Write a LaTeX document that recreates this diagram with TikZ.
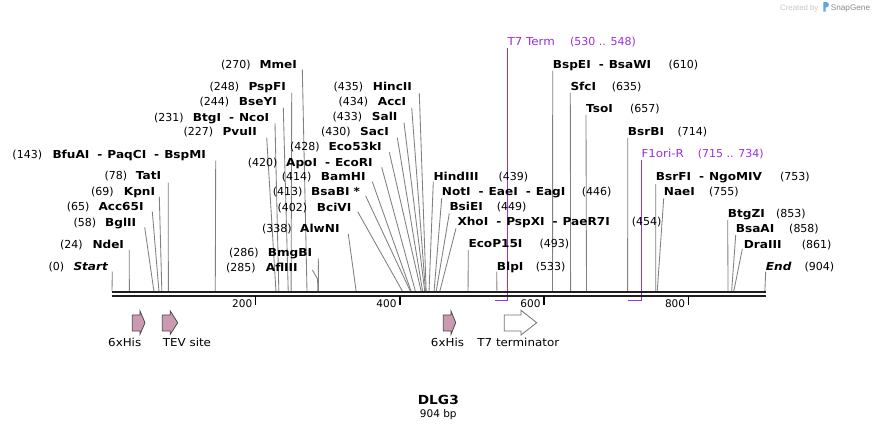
\documentclass[tikz,border=0pt]{standalone}
\usepackage{fontspec}
\setmainfont{DejaVu Sans}
\newfontfamily\nm{DejaVu Sans}
\newfontfamily\ft[FakeStretch=1.08]{DejaVu Sans}
\newfontfamily\bn[FakeStretch=1.1]{DejaVu Sans}
\newfontfamily\wm{Liberation Sans}
\definecolor{sitegray}{RGB}{128,128,128}
\definecolor{primer}{RGB}{155,48,225}
\definecolor{featpink}{RGB}{204,153,179}
\definecolor{logoblue}{RGB}{90,170,225}
\tikzset{
  num/.style={font=\nm\fontsize{11}{13}\selectfont, inner sep=0pt, anchor=base west},
  enz/.style={font=\bn\bfseries\fontsize{11}{13}\selectfont, inner sep=0pt, anchor=base west},
  plab/.style={font=\ft\fontsize{11}{13}\selectfont, inner sep=0pt, anchor=base west, text=primer},
  flab/.style={font=\ft\fontsize{11}{13}\selectfont, inner sep=0pt, anchor=base},
  ticklab/.style={font=\nm\fontsize{10.5}{12}\selectfont, inner sep=0pt, anchor=base east},
  site/.style={draw=sitegray, line width=0.85pt},
  primerln/.style={draw=primer, line width=1.2pt},
  tickln/.style={draw=black, line width=1.3pt},
  featarrow/.style={fill=featpink, draw=black!70, line width=0.8pt, line join=miter},
  termarrow/.style={fill=white, draw=black!55, line width=0.8pt, line join=miter}
}
\newcommand\enzL[6]{\node[num] (n#1) at (#2,#6) {(#3)}; \node[enz] (e#1) at (#4,#6) {#5};}
\newcommand\enzR[6]{\node[enz] (e#1) at (#2,#6) {#3}; \node[num] (n#1) at (#4,#6) {(#5)};}
\newcommand\siteln[4]{\coordinate (a#1) at (#2,#3); \coordinate (b#1) at ({112+#4*0.7222},291); \draw[site] (a#1) -- (b#1);}
\newcommand\dsh{\hspace{8pt}-\hspace{5pt}}
\begin{document}
\begin{tikzpicture}[x=1pt,y=-1pt]
\fill[white] (0,0) rectangle (878,430);
\useasboundingbox (0,0) rectangle (878,430);

% ---------- site lines ----------
\siteln{Start}{112.3}{271.7}{0}
\siteln{NdeI}{129.3}{250}{24}
\siteln{BglII}{144.7}{227.3}{58}
\siteln{AccS}{152.3}{211.7}{65}
\siteln{KpnI}{159.3}{196.7}{69}
\siteln{TatI}{168.3}{182.7}{78}
\siteln{BfuAI}{215.7}{160.7}{143}
\siteln{PvuII}{266.7}{137.7}{227}
\siteln{BtgI}{275}{123.3}{231}
\siteln{BseYI}{283.3}{107.7}{244}
\siteln{PspFI}{291.7}{92.7}{248}
\siteln{MmeI}{302.3}{69.3}{270}
\coordinate (aAflIII) at (312.3,270);
\coordinate (kAflIII) at (317.6,279);
\coordinate (bAflIII) at ({112+285*0.7222},291);
\draw[site] (aAflIII) -- (kAflIII) -- (bAflIII);
\siteln{BmgBI}{318.3}{258.3}{286}
\siteln{AlwNI}{348.3}{234}{338}
\siteln{BciVI}{357.7}{211.7}{402}
\siteln{BsaBI}{365.7}{196}{413}
\siteln{BamHI}{372.3}{181.7}{414}
\siteln{ApoI}{381.7}{167.3}{420}
\siteln{EcoFT}{389.3}{152.3}{428}
\siteln{SacI}{397.3}{137.7}{430}
\siteln{SalI}{404}{122.7}{433}
\siteln{AccI}{411.7}{107.7}{434}
\siteln{HincII}{419.3}{93.3}{435}
\siteln{HindIII}{433.3}{181.7}{439}
\siteln{NotI}{441.7}{198.3}{446}
\siteln{BsiEI}{449.3}{213.3}{449}
\siteln{XhoI}{456}{228.3}{454}
\siteln{EcoP}{468.3}{250}{493}
\siteln{BlpI}{496.7}{271.7}{533}
\siteln{BspEI}{552.7}{70.7}{610}
\siteln{SfcI}{570.3}{92.7}{635}
\siteln{TsoI}{586}{115}{657}
\siteln{BsrBI}{627.7}{138}{714}
\siteln{BsrFI}{655.7}{184}{753}
\siteln{NaeI}{663.7}{198.3}{755}
\siteln{BtgZI}{727.7}{220}{853}
\siteln{BsaAI}{735.7}{235}{858}
\siteln{DraIII}{742.3}{249}{861}
\siteln{End}{765.7}{271.7}{904}

% ---------- primer lines ----------
\coordinate (aT7) at (507.3,48);
\coordinate (cT7) at (507.3,300.6);
\coordinate (dT7) at ({112+530*0.7222},300.6);
\draw[primerln] (aT7) -- (cT7) -- (dT7);
\coordinate (aF1) at (641.3,160);
\coordinate (cF1) at (641.3,300.6);
\coordinate (dF1) at ({112+715*0.7222},300.6);
\draw[primerln] (aF1) -- (cF1) -- (dF1);

% ---------- backbone ----------
\coordinate (bbL1) at (111.5,292);
\coordinate (bbR1) at (765.7,292);
\coordinate (bbL2) at (111.5,295.7);
\coordinate (bbR2) at (765.7,295.7);
\draw[line width=2.6pt, black!88] (bbL1) -- (bbR1);
\draw[line width=2.1pt, black!88] (bbL2) -- (bbR2);

% ---------- ticks ----------
\foreach \t/\tx in {200/255.7,400/400,600/544,800/688.6}{
  \coordinate (tk\t a) at (\tx,296.5);
  \coordinate (tk\t b) at (\tx,305.5);
  \draw[tickln] (tk\t a) -- (tk\t b);
  \node[ticklab] (tl\t) at (\tx-3.3,307.5) {\t};
}

% ---------- enzyme labels, left format ----------
\enzL{Start}{48.3}{0}{73.3}{\itshape Start}{270.5}
\enzL{NdeI}{60}{24}{92.3}{NdeI}{249}
\enzL{BglII}{73.3}{58}{105}{BglII}{226.3}
\enzL{AccS}{66.7}{65}{98.3}{Acc65I}{210.7}
\enzL{KpnI}{91}{69}{123.7}{KpnI}{195.5}
\enzL{TatI}{104.3}{78}{135.7}{TatI}{180}
\enzL{BfuAI}{12.3}{143}{52.3}{BfuAI\dsh PaqCI\dsh BspMI}{159}
\enzL{PvuII}{183.3}{227}{222.3}{PvuII}{135.7}
\enzL{BtgI}{154}{231}{192.7}{BtgI\dsh NcoI}{121.3}
\enzL{BseYI}{199.3}{244}{238.7}{BseYI}{106}
\enzL{PspFI}{209.3}{248}{248.3}{PspFI}{90.7}
\enzL{MmeI}{221}{270}{259.3}{MmeI}{68.3}
\enzL{AflIII}{226}{285}{265.7}{AflIII}{271.5}
\enzL{BmgBI}{229}{286}{267.7}{BmgBI}{256.5}
\enzL{AlwNI}{262}{338}{300}{AlwNI}{232.5}
\enzL{BciVI}{277.3}{402}{316.7}{BciVI}{211.5}
\enzL{BsaBI}{272.7}{413}{311}{BsaBI *}{196}
\enzL{BamHI}{281.7}{414}{320.7}{BamHI}{180.7}
\enzL{ApoI}{247.7}{420}{286}{ApoI\dsh EcoRI}{166.5}
\enzL{EcoFT}{290}{428}{328.3}{Eco53kI}{151}
\enzL{SacI}{321}{430}{360}{SacI}{136}
\enzL{SalI}{332.3}{433}{371.7}{SalI}{121}
\enzL{AccI}{338.3}{434}{377.7}{AccI}{106}
\enzL{HincII}{333.3}{435}{372.7}{HincII}{90.7}

% ---------- enzyme labels, right format ----------
\enzR{HindIII}{433.3}{HindIII}{498.3}{439}{180.7}
\enzR{NotI}{441.7}{NotI\dsh EaeI\dsh EagI}{581.7}{446}{196}
\enzR{BsiEI}{449.3}{BsiEI}{496.7}{449}{211}
\enzR{XhoI}{457.3}{XhoI\dsh PspXI\dsh PaeR7I}{631.7}{454}{226}
\enzR{EcoP}{468.3}{EcoP15I}{539.3}{493}{247.5}
\enzR{BlpI}{496.7}{BlpI}{535.7}{533}{271}
\enzR{BspEI}{552.7}{BspEI\dsh BsaWI}{668.3}{610}{68.3}
\enzR{SfcI}{570.3}{SfcI}{611.7}{635}{91}
\enzR{TsoI}{586}{TsoI}{630}{657}{113}
\enzR{BsrBI}{627.7}{BsrBI}{677.3}{714}{135.7}
\enzR{BsrFI}{655.7}{BsrFI\dsh NgoMIV}{780}{753}{180.7}
\enzR{NaeI}{663.7}{NaeI}{709}{755}{196}
\enzR{BtgZI}{727.7}{BtgZI}{776}{853}{217.5}
\enzR{BsaAI}{735.7}{BsaAI}{789}{858}{233}
\enzR{DraIII}{743.7}{DraIII}{801.7}{861}{248.3}
\enzR{End}{765.7}{\itshape End}{804.3}{904}{271}

% ---------- primer labels ----------
\node[plab] (pT7) at (507.3,46) {T7 Term};
\node[num, text=primer] (pT7n) at (570,46) {(530 .. 548)};
\node[plab] (pF1) at (641.3,158) {F1ori-R};
\node[num, text=primer] (pF1n) at (697.7,158) {(715 .. 734)};

% ---------- features ----------
\draw[featarrow] (132.3,315) -- (140,315) -- (140,311) -- (145,322.7) -- (140,334.3) -- (140,331) -- (132.3,331) -- cycle;
\draw[featarrow] (162.3,315) -- (170.3,315) -- (170.3,311) -- (177.7,322.7) -- (170.3,334.3) -- (170.3,331) -- (162.3,331) -- cycle;
\draw[featarrow] (443.3,315) -- (451,315) -- (451,311) -- (455.7,322.7) -- (451,334.3) -- (451,331) -- (443.3,331) -- cycle;
\draw[termarrow] (504.3,315) -- (521,315) -- (521,310.3) -- (536.7,322.7) -- (521,335) -- (521,331) -- (504.3,331) -- cycle;
\node[flab] (fHis1) at (124.7,346.7) {6xHis};
\node[flab] (fTEV) at (187,346.7) {TEV site};
\node[flab] (fHis2) at (447.5,346.7) {6xHis};
\node[flab] (fT7) at (518.3,346.7) {T7 terminator};

% ---------- title ----------
\node[font=\bn\bfseries\fontsize{12.5}{14}\selectfont, anchor=base, inner sep=0pt] (title) at (438.3,404) {DLG3};
\node[font=\nm\fontsize{10.5}{12}\selectfont, anchor=base, inner sep=0pt] (len) at (438.3,417) {904 bp};

% ---------- watermark ----------
\node[font=\wm\fontsize{7.8}{9}\selectfont, text=black!22, anchor=base west, inner sep=0pt] (wm1) at (780,10.5) {Created by};
\fill[logoblue] (823.3,1.8) -- (823.3,11.7) -- (825.6,11.7) -- (825.6,7.6) .. controls (830,7.6) and (830,1.8) .. (825.6,1.8) -- cycle;
\node[font=\wm\fontsize{8.2}{9}\selectfont, text=black!45, anchor=base west, inner sep=0pt] (wm2) at (830.7,10.7) {SnapGene};
\end{tikzpicture}
\end{document}
